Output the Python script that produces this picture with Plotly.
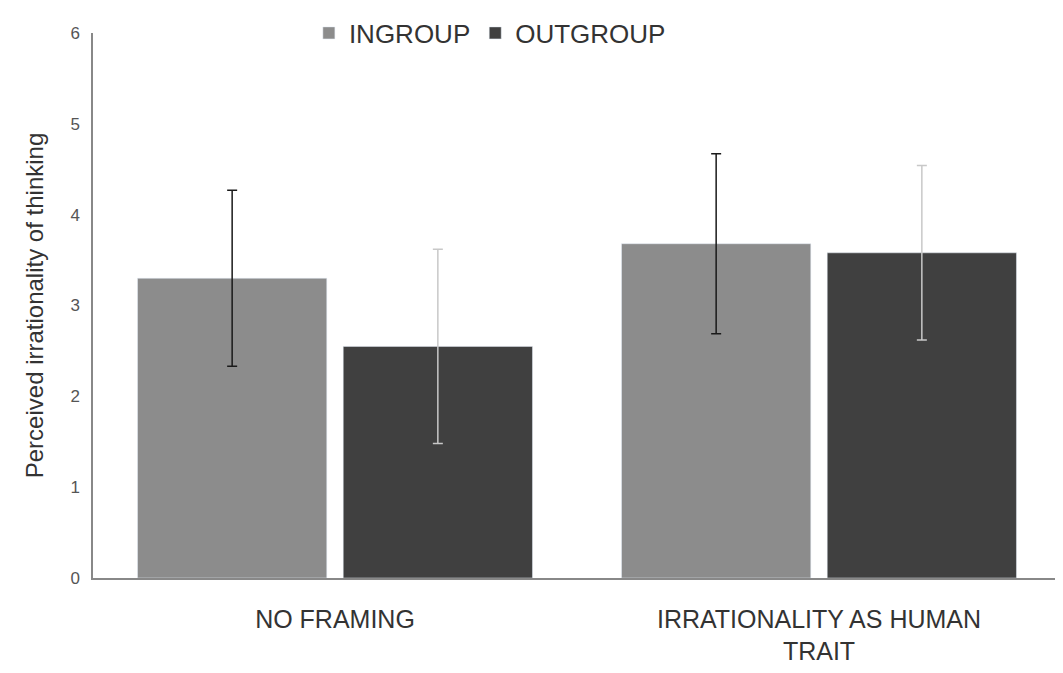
import plotly.graph_objects as go

categories = ["NO FRAMING", "IRRATIONALITY AS HUMAN<br>TRAIT"]
ingroup = [3.30, 3.68]
ingroup_err = [0.97, 0.99]
outgroup = [2.55, 3.58]
outgroup_err = [1.07, 0.96]

fig = go.Figure()
fig.add_trace(go.Bar(
  x=categories, y=ingroup, name="INGROUP",
  marker_color="#8c8c8c",
  error_y=dict(type="data", array=ingroup_err, color="#1a1a1a", thickness=1.5, width=5),
))
fig.add_trace(go.Bar(
  x=categories, y=outgroup, name="OUTGROUP",
  marker_color="#404040",
  error_y=dict(type="data", array=outgroup_err, color="#c8c8c8", thickness=1.5, width=5),
))

fig.update_layout(
  width=1063, height=673,
  margin=dict(l=85, r=10, t=25, b=103, autoexpand=False),
  plot_bgcolor="white", paper_bgcolor="white",
  font=dict(family="Liberation Sans, Arial", color="#333333"),
  barmode="group", bargap=0.15, bargroupgap=0.08,
  legend=dict(orientation="h", x=0.41, xanchor="center", y=1.0, yanchor="middle",
              bgcolor="rgba(0,0,0,0)", font=dict(size=26, color="#333333")),
  xaxis=dict(showline=True, linecolor="#888888", linewidth=1.5,
             tickfont=dict(size=25, color="#333333"), ticks="", ticklabelstandoff=18),
  yaxis=dict(range=[0, 6], dtick=1, showgrid=False, showline=True, linecolor="#888888",
             linewidth=1.5, tickfont=dict(size=17, color="#555555"), ticklabelstandoff=8,
             title=dict(text="Perceived irrationality of thinking", font=dict(size=24, color="#333333"), standoff=20)),
)
fig.write_html("out.html")
